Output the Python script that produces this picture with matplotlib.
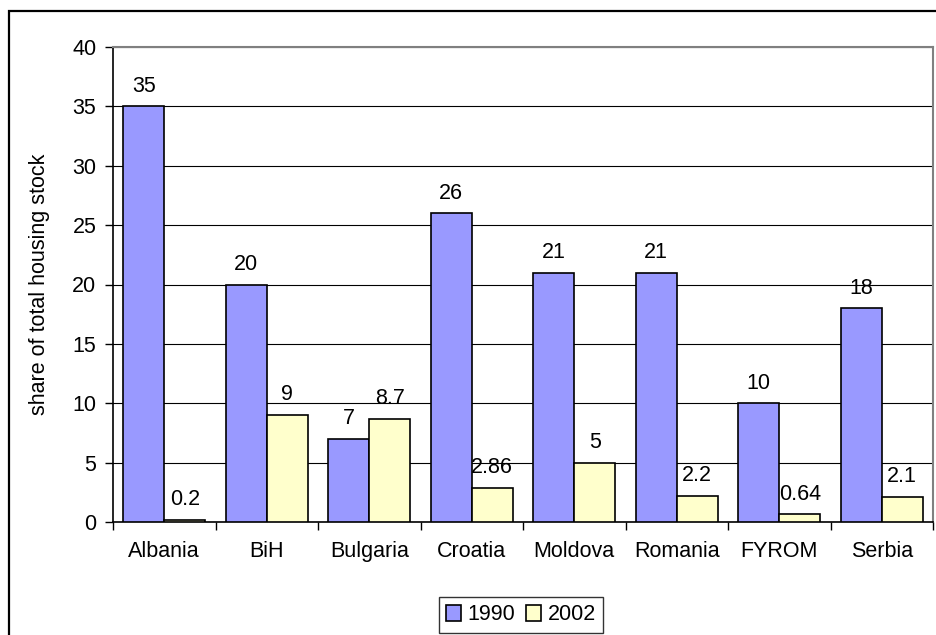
import matplotlib
matplotlib.use("Agg")
import matplotlib.pyplot as plt
from matplotlib.patches import Rectangle
import numpy as np

countries = ["Albania", "BiH", "Bulgaria", "Croatia", "Moldova", "Romania", "FYROM", "Serbia"]
share_1990 = [35, 20, 7, 26, 21, 21, 10, 18]
share_2002 = [0.2, 9, 8.7, 2.86, 5, 2.2, 0.64, 2.1]
labels_1990 = ["35", "20", "7", "26", "21", "21", "10", "18"]
labels_2002 = ["0.2", "9", "8.7", "2.86", "5", "2.2", "0.64", "2.1"]

plt.rcParams["font.family"] = ["Liberation Sans", "DejaVu Sans"]
fs = 15.5

fig = plt.figure(figsize=(9.36, 6.35), dpi=100)
ax = fig.add_axes([113 / 936, 1 - 522 / 635, (933 - 113) / 936, (522 - 47) / 635])

x = np.arange(len(countries))
w = 0.4
b1 = ax.bar(x - w / 2, share_1990, w, color="#9999FF", edgecolor="black", linewidth=1.2,
            label="1990", zorder=3)
b2 = ax.bar(x + w / 2, share_2002, w, color="#FFFFCC", edgecolor="black", linewidth=1.2,
            label="2002", zorder=3)
ax.bar_label(b1, labels=labels_1990, padding=7, fontsize=fs)
ax.bar_label(b2, labels=labels_2002, padding=7, fontsize=fs)

ax.set_xlim(-0.5, len(countries) - 0.5)
ax.set_ylim(0, 40)
ax.set_yticks(range(0, 41, 5))
ax.yaxis.grid(True, color="black", linewidth=0.8, zorder=0)
ax.set_axisbelow(True)

ax.set_xticks(x)
ax.set_xticklabels(countries)
ax.set_xticks(np.arange(-0.5, len(countries), 1), minor=True)
ax.tick_params(axis="x", which="major", length=0, pad=14, labelsize=fs)
ax.tick_params(axis="x", which="minor", length=6, direction="out", width=1)
ax.tick_params(axis="y", length=6, direction="out", width=1, labelsize=fs, pad=6)

ax.set_ylabel("share of total housing stock", fontsize=fs, labelpad=16)

for s in ["top", "right"]:
    ax.spines[s].set_color("#808080")
    ax.spines[s].set_linewidth(1.5)
for s in ["left", "bottom"]:
    ax.spines[s].set_color("black")
    ax.spines[s].set_linewidth(1.2)

leg = fig.legend(loc="center", bbox_to_anchor=(521 / 936, 1 - 615 / 635), ncol=2,
                 fontsize=fs, frameon=True, fancybox=False, edgecolor="black",
                 handlelength=0.7, handleheight=0.7, handletextpad=0.3, columnspacing=0.5,
                 borderpad=0.35)
leg.get_frame().set_linewidth(1.0)

# outer chart frame (clipped by the image edges on right and bottom)
fig.patches.append(Rectangle((9 / 936, -0.02), 1.0, 1 - 11 / 635 + 0.02,
                             transform=fig.transFigure, fill=False,
                             edgecolor="black", linewidth=1.6))

fig.savefig("out.png", dpi=100)
